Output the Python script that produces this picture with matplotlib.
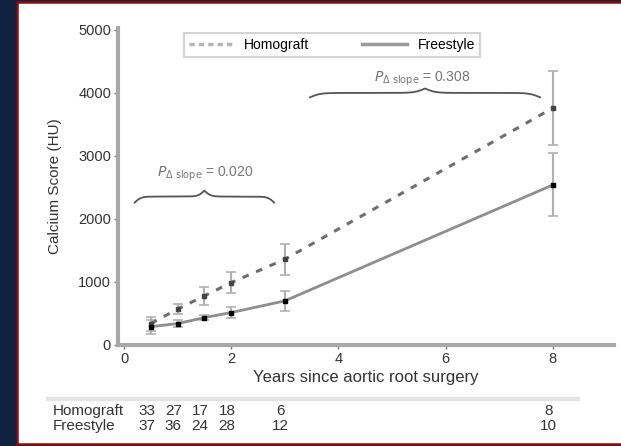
import numpy as np
import matplotlib
matplotlib.use("Agg")
import matplotlib.pyplot as plt
from matplotlib.patches import Rectangle
from matplotlib.lines import Line2D
from matplotlib.transforms import blended_transform_factory

plt.rcParams["font.family"] = ["Liberation Sans", "DejaVu Sans"]

# data
years = [0.5, 1, 1.5, 2, 3, 8]
homograft = [340, 570, 780, 990, 1360, 3760]
homograft_err = [110, 80, 145, 170, 250, 580]
freestyle = [290, 340, 435, 515, 700, 2540]
freestyle_err = [110, 60, 45, 90, 160, 500]
n_homograft = ["33", "27", "17", "18", "6", "8"]
n_freestyle = ["37", "36", "24", "28", "12", "10"]

W, H = 621, 446
fig = plt.figure(figsize=(W / 100, H / 100), dpi=100, facecolor="#0f2340")

# white panel with dark red border
fig.patches.append(Rectangle((16.5 / W, 2.5 / H), 1.2, (441.5 / H), transform=fig.transFigure,
                             facecolor="white", edgecolor="#8b0a0a", lw=1.8, zorder=-5))

ax = fig.add_axes([118 / W, 1 - 345 / H, 496 / W, (345 - 28) / H])
ax.set_facecolor("none")

grey = "#8e8e8e"
ax.errorbar(years, homograft, yerr=homograft_err, fmt="none", ecolor="#b0b0b0",
            elinewidth=1.5, capsize=3.5, capthick=1.2, zorder=2)
ax.errorbar(years, freestyle, yerr=freestyle_err, fmt="none", ecolor="#b0b0b0",
            elinewidth=1.5, capsize=3.5, capthick=1.2, zorder=2)
ax.plot(years, homograft, color="#6e6e6e", lw=2.2, ls=(0, (2.2, 2.6)), zorder=3)
ax.plot(years, homograft, ls="none", marker="s", ms=2.8, color="#444444", zorder=4)
ax.plot(years, freestyle, color=grey, lw=2.0, zorder=3)
ax.plot(years, freestyle, ls="none", marker="s", ms=3.0, color="black", zorder=4)


def brace(x1, x2, y0, h, b=45):
    u = np.linspace(0, 0.5, 200)
    f = 1 / (1 + np.exp(-b * u)) + 1 / (1 + np.exp(-b * (u - 0.5))) - 0.5
    f = np.concatenate([f, f[-2::-1]])
    xs = np.linspace(x1, x2, len(f))
    ax.plot(xs, y0 + f * h, color="#555555", lw=1.3, zorder=3)


brace(0.2, 2.8, 2260, 190)
brace(3.47, 7.76, 3930, 140)
ax.text(1.51, 2720, r"$P_{\Delta\ \mathrm{slope}}$ = 0.020", ha="center", va="center",
        fontsize=10, color="#777777")
ax.text(5.56, 4230, r"$P_{\Delta\ \mathrm{slope}}$ = 0.308", ha="center", va="center",
        fontsize=10, color="#777777")

ax.set_xlim(-0.112, 9.14)
ax.set_ylim(0, 5030)
ax.set_xticks([0, 2, 4, 6, 8])
ax.set_yticks([0, 1000, 2000, 3000, 4000, 5000])
ax.set_xticks(np.arange(0, 9.01, 0.5), minor=True)
ax.set_yticks(np.arange(0, 5001, 200), minor=True)
for s in ["top", "right"]:
    ax.spines[s].set_visible(False)
for s in ["left", "bottom"]:
    ax.spines[s].set_color("#a8a8a8")
    ax.spines[s].set_linewidth(3)
ax.tick_params(which="major", length=3, width=1, color="#777777", labelsize=10.5,
               labelcolor="#333333", pad=2)
ax.tick_params(which="minor", length=0)
ax.set_xlabel("Years since aortic root surgery", fontsize=12, color="#333333", labelpad=3)
ax.set_ylabel("Calcium Score (HU)", fontsize=11, color="#333333", labelpad=12)

handles = [Line2D([], [], color="#b5b5b5", lw=2.5, ls=(0, (1.5, 1.2))),
           Line2D([], [], color="#9a9a9a", lw=2.5)]
leg = ax.legend(handles, ["Homograft", "Freestyle"], loc="upper center",
                bbox_to_anchor=(0.431, 1.005), ncol=2, fontsize=10, frameon=True,
                fancybox=False, edgecolor="#c8c8c8", handlelength=3.2,
                columnspacing=3.8, borderpad=0.35, handletextpad=0.8)
leg.get_frame().set_linewidth(1.5)

# numbers at risk table
tr = blended_transform_factory(ax.transData, fig.transFigure)
fig.add_artist(Line2D([48 / W, 578 / W], [1 - 399 / H] * 2, transform=fig.transFigure,
                      color="#e4e4e4", lw=3))
fig.text(53 / W, 1 - 411 / H, "Homograft", fontsize=11, color="#333333", va="center")
fig.text(53 / W, 1 - 426 / H, "Freestyle", fontsize=11, color="#333333", va="center")
for x, a, b in zip(years, n_homograft, n_freestyle):
    ax.text(x - 0.08, 1 - 411 / H, a, transform=tr, ha="center", va="center",
            fontsize=11, color="#333333", clip_on=False)
    ax.text(x - 0.08, 1 - 426 / H, b, transform=tr, ha="center", va="center",
            fontsize=11, color="#333333", clip_on=False)

fig.savefig("out.png", dpi=100, facecolor=fig.get_facecolor())
